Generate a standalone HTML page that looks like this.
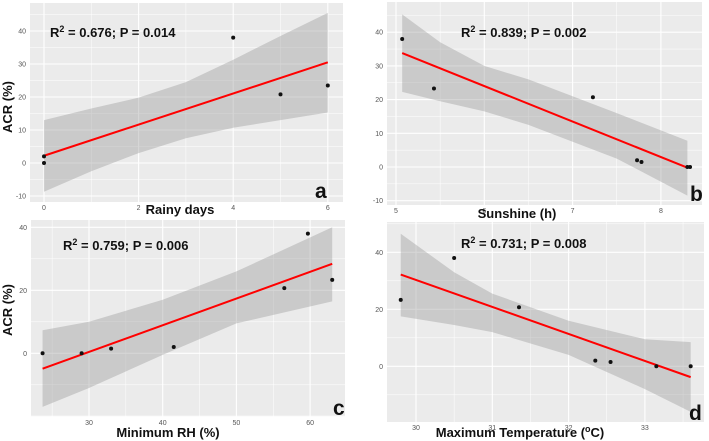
<!DOCTYPE html>
<html><head><meta charset="utf-8"><style>
body{margin:0;background:#fff;width:709px;height:441px;overflow:hidden}
svg{display:block;font-family:"Liberation Sans",sans-serif}
</style></head><body>
<svg id="fig" width="709" height="441" viewBox="0 0 709 441"></svg>
<script>
// Panel a: Rainy days
const aX=[0,0,4,5,6], aY=[0,2,38,20.8,23.5];
const aFit=[[0,2.2],[6,30.5]];
const aBandX=[0,1,2,3,4,5,6], aLo=[-8.7,-2.5,3,7.5,10.7,13,15.3], aHi=[13,16.5,19.8,24.5,31.3,38.5,45.5];
const aXTicks=[0,2,4,6], aYTicks=[-10,0,10,20,30,40];
// Panel b: Sunshine
const bX=[5.07,5.43,7.23,7.73,7.78,8.3,8.33], bY=[38,23.3,20.7,2,1.5,0,0];
const bFit=[[5.07,33.8],[8.3,-0.2]];
const bBandX=[5.07,5.5,6,6.5,7,7.5,8.3], bLo=[22.3,19.5,16.5,12.5,7.5,2.5,-8.5], bHi=[45.3,37,30,26,21,16,7.8];
const bXTicks=[5,6,7,8], bYTicks=[-10,0,10,20,30,40];
// Panel c: Minimum RH
const cX=[23.7,29,33,41.5,56.5,59.7,63], cY=[0,0,1.5,2,20.7,38,23.3];
const cFit=[[23.7,-4.9],[63,28.4]];
const cBandX=[23.7,30,40,50,63], cLo=[-17,-11,-0.5,9.5,16.5], cHi=[7.3,10,17,26,40];
const cXTicks=[30,40,50,60], cYTicks=[0,20,40];
// Panel d: Maximum temperature
const dX=[29.8,30.5,31.35,32.35,32.55,33.15,33.6], dY=[23.3,38,20.7,2,1.5,0,0];
const dFit=[[29.8,32.2],[33.6,-3.8]];
const dBandX=[29.8,30.5,31,32,33,33.6], dLo=[17.5,14.5,12,4,-8,-16], dHi=[46.5,33,25.5,16,9.5,8.5];
const dXTicks=[30,31,32,33], dYTicks=[0,20,40];

const NS="http://www.w3.org/2000/svg";
const svg=document.getElementById('fig');
function el(t,a,p){const e=document.createElementNS(NS,t);for(const k in a)e.setAttribute(k,a[k]);(p||svg).appendChild(e);return e;}

function panel(o){
  const g=el('g',{});
  
  
  const sx=v=>o.x0+(v-o.xa)*o.xs, sy=v=>o.y0-(v-o.ya)*o.ys;
  const bg=el('rect',{x:o.L,y:o.T,width:o.R-o.L,height:o.B-o.T,fill:'#EBEBEB'},g);
  
  
  // grid
  const xt=o.xt, yt=o.yt;
  const xstep=xt[1]-xt[0], ystep=yt[1]-yt[0];
  for(let v=xt[0]-xstep;v<=xt[xt.length-1]+xstep;v+=xstep/2){const px=sx(v);if(px>o.L&&px<o.R)el('line',{x1:px,x2:px,y1:o.T,y2:o.B,stroke:'#fff','stroke-width':(Math.abs((v-xt[0])/xstep%1)<1e-6)?1.1:0.5},g);}
  for(let v=yt[0]-ystep;v<=yt[yt.length-1]+ystep;v+=ystep/2){const py=sy(v);if(py>o.T&&py<o.B)el('line',{y1:py,y2:py,x1:o.L,x2:o.R,stroke:'#fff','stroke-width':(Math.abs((v-yt[0])/ystep%1)<1e-6)?1.1:0.5},g);}
  // ticks
  xt.forEach(v=>{const t=el('text',{x:sx(v),y:o.B+8,'font-size':7,fill:'#555','text-anchor':'middle'},g);t.textContent=v;
    });
  yt.forEach(v=>{const t=el('text',{x:o.L-4,y:sy(v)+2.5,'font-size':7,fill:'#555','text-anchor':'end'},g);t.textContent=v;
    });
  // band
  let d='';o.bx.forEach((v,i)=>d+=(i?'L':'M')+sx(v)+','+sy(o.hi[i]));
  for(let i=o.bx.length-1;i>=0;i--)d+='L'+sx(o.bx[i])+','+sy(o.lo[i]);
  const band=el('path',{d:d+'Z',fill:'#999','fill-opacity':0.4},g);
  
  
  const ln=el('line',{x1:sx(o.fit[0][0]),y1:sy(o.fit[0][1]),x2:sx(o.fit[1][0]),y2:sy(o.fit[1][1]),stroke:'#f00','stroke-width':2},g);
  
  
  o.px.forEach((v,i)=>{const c=el('circle',{cx:sx(v),cy:sy(o.py[i]),r:2,fill:'#111'},g);
    });
  const ann=el('text',{x:o.ax,y:o.ay,'font-size':13,'font-weight':'bold',fill:'#111'},g);
  ann.innerHTML='R<tspan font-size="9" dy="-5">2</tspan><tspan dy="5"> = '+o.ann+'</tspan>';
  
  const lt=el('text',{x:o.lx,y:o.ly,'font-size':21,'font-weight':'bold',fill:'#111'},g);lt.textContent=o.id;
  
  const xl=el('text',{x:o.xlx,y:o.xly,'font-size':13,'font-weight':'bold',fill:'#111','text-anchor':'middle'},g);xl.innerHTML=o.xlab;
  
  if(o.ylab){const yl=el('text',{x:0,y:0,'font-size':13,'font-weight':'bold',fill:'#111','text-anchor':'middle',transform:'translate('+o.ylx+','+o.yly+') rotate(-90)'},g);yl.textContent='ACR (%)';
    }
}
panel({id:'a',L:30,R:343,T:3,B:202,x0:44,xa:0,xs:47.3,y0:163,ya:0,ys:3.3,xt:aXTicks,yt:aYTicks,bx:aBandX,lo:aLo,hi:aHi,fit:aFit,px:aX,py:aY,
  ann:'0.676; P = 0.014',ax:50,ay:37,lx:315,ly:198,xlab:'Rainy days',xlx:180,xly:214,ylab:1,ylx:12,yly:107});
panel({id:'b',L:387,R:702,T:2,B:205,x0:396,xa:5,xs:88.3,y0:167,ya:0,ys:3.37,xt:bXTicks,yt:bYTicks,bx:bBandX,lo:bLo,hi:bHi,fit:bFit,px:bX,py:bY,
  ann:'0.839; P = 0.002',ax:461,ay:37,lx:690,ly:201,xlab:'Sunshine (h)',xlx:517,xly:218});
panel({id:'c',L:31,R:345,T:220,B:417,x0:89,xa:30,xs:7.37,y0:353.3,ya:0,ys:3.15,xt:cXTicks,yt:cYTicks,bx:cBandX,lo:cLo,hi:cHi,fit:cFit,px:cX,py:cY,
  ann:'0.759; P = 0.006',ax:63,ay:250,lx:333,ly:415,xlab:'Minimum RH (%)',xlx:168,xly:437,ylab:1,ylx:12,yly:310});
panel({id:'d',L:387,R:704,T:222,B:422,x0:416,xa:30,xs:76.3,y0:366.3,ya:0,ys:2.85,xt:dXTicks,yt:dYTicks,bx:dBandX,lo:dLo,hi:dHi,fit:dFit,px:dX,py:dY,
  ann:'0.731; P = 0.008',ax:461,ay:248,lx:689,ly:420,xlab:'Maximum Temperature (<tspan font-size="9" dy="-5">o</tspan><tspan dy="5">C)</tspan>',xlx:520,xly:437});
</script>
</body></html>
